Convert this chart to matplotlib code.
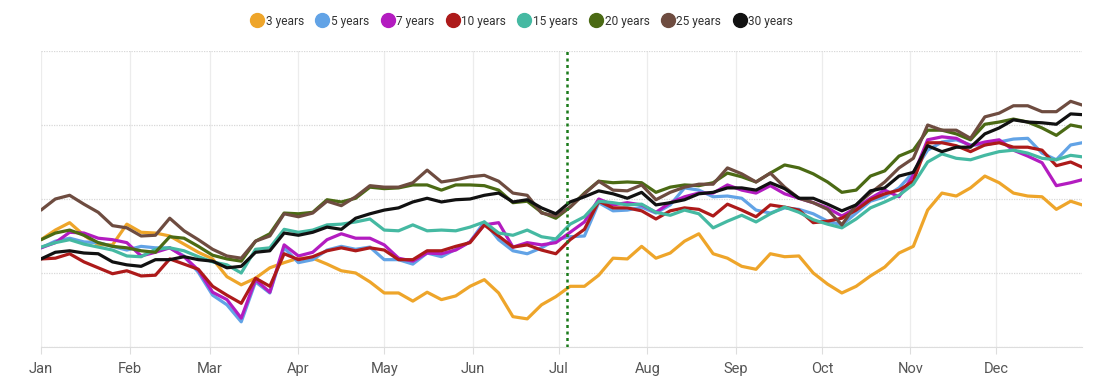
import numpy as np
import pandas as pd
import matplotlib
matplotlib.use("Agg")
import matplotlib.pyplot as plt
import matplotlib.dates as mdates
from matplotlib.lines import Line2D

plt.rcParams['font.family'] = ['Roboto', 'DejaVu Sans']

# sample days (day of year) shared by all series
days = list(range(0, 361, 5)) + [364]
dates = pd.Timestamp('2021-01-01') + pd.to_timedelta(days, unit='D')
marker_date = pd.Timestamp('2021-07-04')

labels = ['3 years', '5 years', '7 years', '10 years', '15 years', '20 years', '25 years', '30 years']
colors = ['#eea52a', '#62a3e6', '#b31cc0', '#ad1a1a', '#45b9a2', '#4b6a14', '#6e4c40', '#111111']

y3 = [1.45, 1.58, 1.68, 1.51, 1.38, 1.38, 1.66, 1.55, 1.54, 1.50, 1.39, 1.28, 1.19, 0.95, 0.84, 0.93,
      1.07, 1.14, 1.20, 1.20, 1.12, 1.03, 1.00, 0.88, 0.73, 0.73, 0.62, 0.74, 0.64, 0.69, 0.82, 0.91,
      0.73, 0.41, 0.38, 0.57, 0.68, 0.82, 0.82, 0.97, 1.20, 1.19, 1.36, 1.20, 1.27, 1.43, 1.53, 1.26,
      1.20, 1.09, 1.05, 1.26, 1.22, 1.23, 1.00, 0.85, 0.73, 0.82, 0.96, 1.08, 1.27, 1.36, 1.85, 2.08,
      2.04, 2.15, 2.31, 2.22, 2.08, 2.04, 2.03, 1.86, 1.97, 1.92]
y5 = [1.34, 1.43, 1.47, 1.42, 1.41, 1.36, 1.31, 1.36, 1.34, 1.34, 1.23, 1.01, 0.70, 0.57, 0.34, 0.88,
      0.73, 1.34, 1.14, 1.18, 1.31, 1.36, 1.32, 1.35, 1.18, 1.18, 1.12, 1.27, 1.22, 1.32, 1.42, 1.69,
      1.45, 1.30, 1.26, 1.34, 1.45, 1.49, 1.50, 1.95, 1.84, 1.85, 1.89, 1.81, 1.92, 2.15, 2.12, 2.03,
      2.04, 2.01, 1.85, 1.81, 1.88, 1.86, 1.80, 1.70, 1.65, 1.81, 1.97, 2.03, 2.15, 2.36, 2.66, 2.77,
      2.80, 2.73, 2.73, 2.77, 2.81, 2.82, 2.62, 2.53, 2.73, 2.76]
y7 = [1.34, 1.41, 1.55, 1.54, 1.47, 1.45, 1.41, 1.23, 1.28, 1.34, 1.22, 1.04, 0.74, 0.64, 0.39, 0.91,
      0.74, 1.38, 1.23, 1.28, 1.45, 1.53, 1.47, 1.47, 1.38, 1.20, 1.16, 1.27, 1.26, 1.31, 1.42, 1.65,
      1.68, 1.35, 1.41, 1.38, 1.41, 1.55, 1.69, 2.00, 1.92, 1.95, 1.92, 1.82, 1.95, 2.03, 2.08, 2.08,
      2.19, 2.12, 2.08, 2.18, 2.07, 2.01, 1.95, 1.88, 1.77, 1.88, 2.01, 2.12, 2.03, 2.32, 2.80, 2.84,
      2.82, 2.72, 2.77, 2.80, 2.66, 2.58, 2.49, 2.18, 2.22, 2.26]
y10 = [1.19, 1.20, 1.26, 1.15, 1.07, 0.99, 1.03, 0.96, 0.97, 1.19, 1.12, 1.05, 0.82, 0.70, 0.59, 0.93,
       0.82, 1.26, 1.18, 1.22, 1.30, 1.34, 1.30, 1.34, 1.31, 1.18, 1.18, 1.30, 1.30, 1.36, 1.41, 1.65,
       1.50, 1.35, 1.38, 1.31, 1.26, 1.45, 1.59, 1.97, 1.88, 1.88, 1.84, 1.73, 1.84, 1.88, 1.86, 1.77,
       1.93, 1.85, 1.76, 1.92, 1.89, 1.85, 1.68, 1.70, 1.74, 1.85, 1.99, 2.07, 2.12, 2.24, 2.76, 2.76,
       2.72, 2.64, 2.73, 2.76, 2.70, 2.70, 2.66, 2.45, 2.50, 2.43]
y15 = [1.35, 1.41, 1.45, 1.39, 1.35, 1.31, 1.23, 1.22, 1.32, 1.34, 1.30, 1.22, 1.15, 1.11, 1.00, 1.32,
       1.34, 1.59, 1.55, 1.58, 1.65, 1.66, 1.69, 1.73, 1.58, 1.57, 1.65, 1.57, 1.58, 1.57, 1.62, 1.69,
       1.54, 1.51, 1.58, 1.49, 1.46, 1.66, 1.76, 1.97, 1.95, 1.92, 1.93, 1.82, 1.78, 1.85, 1.80, 1.61,
       1.70, 1.78, 1.69, 1.80, 1.89, 1.82, 1.72, 1.66, 1.61, 1.73, 1.88, 1.96, 2.05, 2.20, 2.50, 2.61,
       2.55, 2.53, 2.59, 2.64, 2.66, 2.62, 2.55, 2.53, 2.59, 2.57]
y20 = [1.45, 1.54, 1.58, 1.51, 1.41, 1.36, 1.34, 1.30, 1.28, 1.49, 1.47, 1.36, 1.24, 1.19, 1.16, 1.43,
       1.53, 1.81, 1.80, 1.82, 1.99, 1.96, 2.01, 2.16, 2.14, 2.15, 2.19, 2.19, 2.12, 2.19, 2.19, 2.18,
       2.12, 1.95, 1.97, 1.82, 1.74, 1.89, 2.08, 2.24, 2.22, 2.23, 2.22, 2.09, 2.16, 2.19, 2.18, 2.22,
       2.35, 2.30, 2.23, 2.35, 2.46, 2.42, 2.34, 2.23, 2.09, 2.12, 2.31, 2.38, 2.58, 2.66, 2.93, 2.93,
       2.88, 2.80, 3.01, 3.04, 3.08, 3.04, 2.96, 2.86, 3.00, 2.97]
y25 = [1.85, 2.00, 2.05, 1.93, 1.82, 1.64, 1.61, 1.50, 1.51, 1.74, 1.57, 1.45, 1.32, 1.23, 1.20, 1.43,
       1.50, 1.80, 1.76, 1.81, 1.97, 1.91, 2.03, 2.18, 2.16, 2.16, 2.22, 2.39, 2.23, 2.26, 2.30, 2.32,
       2.24, 2.08, 2.05, 1.81, 1.77, 1.89, 2.07, 2.24, 2.12, 2.11, 2.19, 1.99, 2.09, 2.16, 2.20, 2.20,
       2.42, 2.34, 2.23, 2.35, 2.16, 2.01, 1.95, 1.86, 1.65, 1.92, 2.08, 2.23, 2.42, 2.55, 3.00, 2.93,
       2.93, 2.82, 3.11, 3.16, 3.26, 3.26, 3.18, 3.18, 3.32, 3.27]
y30 = [1.19, 1.28, 1.30, 1.27, 1.26, 1.15, 1.11, 1.09, 1.18, 1.18, 1.22, 1.18, 1.16, 1.07, 1.09, 1.28,
       1.30, 1.54, 1.51, 1.55, 1.62, 1.59, 1.74, 1.80, 1.85, 1.88, 1.96, 2.01, 1.96, 1.99, 2.00, 2.05,
       2.08, 1.96, 1.99, 1.88, 1.80, 1.96, 2.03, 2.11, 2.07, 2.01, 2.09, 1.92, 1.95, 1.99, 2.07, 2.09,
       2.15, 2.15, 2.12, 2.22, 2.14, 2.01, 2.01, 1.93, 1.84, 1.92, 2.11, 2.15, 2.31, 2.36, 2.72, 2.64,
       2.70, 2.70, 2.88, 2.96, 3.07, 3.04, 3.03, 3.01, 3.15, 3.14]

series = [y3, y5, y7, y10, y15, y20, y25, y30]

fig = plt.figure(figsize=(10.97, 3.87), dpi=100)
ax = fig.add_axes([0.0374, 0.1034, 0.9490, 0.7648])

for vals, col in zip(series, colors):
    ax.plot(dates, vals, color=col, lw=2.3, solid_joinstyle='round', solid_capstyle='round')

ax.axvline(marker_date, color='#1a7a1a', lw=1.8, ls=(0, (1.2, 1.4)), zorder=5)

ax.set_xlim(dates[0], dates[-1])
ax.set_ylim(0, 4)
ax.set_yticks([0, 1, 2, 3, 4])
ax.yaxis.grid(True, color='#d8d8d8', lw=0.9, ls=(0, (1, 1)))
ax.xaxis.set_major_locator(mdates.MonthLocator())
ax.xaxis.set_major_formatter(mdates.DateFormatter('%b'))
ax.xaxis.grid(True, color='#ececec', lw=0.9)
ax.tick_params(axis='y', left=False, labelleft=False)
ax.tick_params(axis='x', length=5, color='#dddddd', labelsize=10.5, labelcolor='#555555', pad=6)
for s in ['top', 'right', 'left']:
    ax.spines[s].set_visible(False)
ax.spines['bottom'].set_color('#dddddd')

handles = [Line2D([], [], marker='o', ls='none', markersize=10, color=c) for c in colors]
fig.legend(handles, labels, loc='upper center', bbox_to_anchor=(0.476, 0.99), ncol=8,
           frameon=False, fontsize=8.6, handlelength=1.0, handletextpad=0.2,
           columnspacing=1.05, labelcolor='#333333')

fig.savefig('out.png', dpi=100)
